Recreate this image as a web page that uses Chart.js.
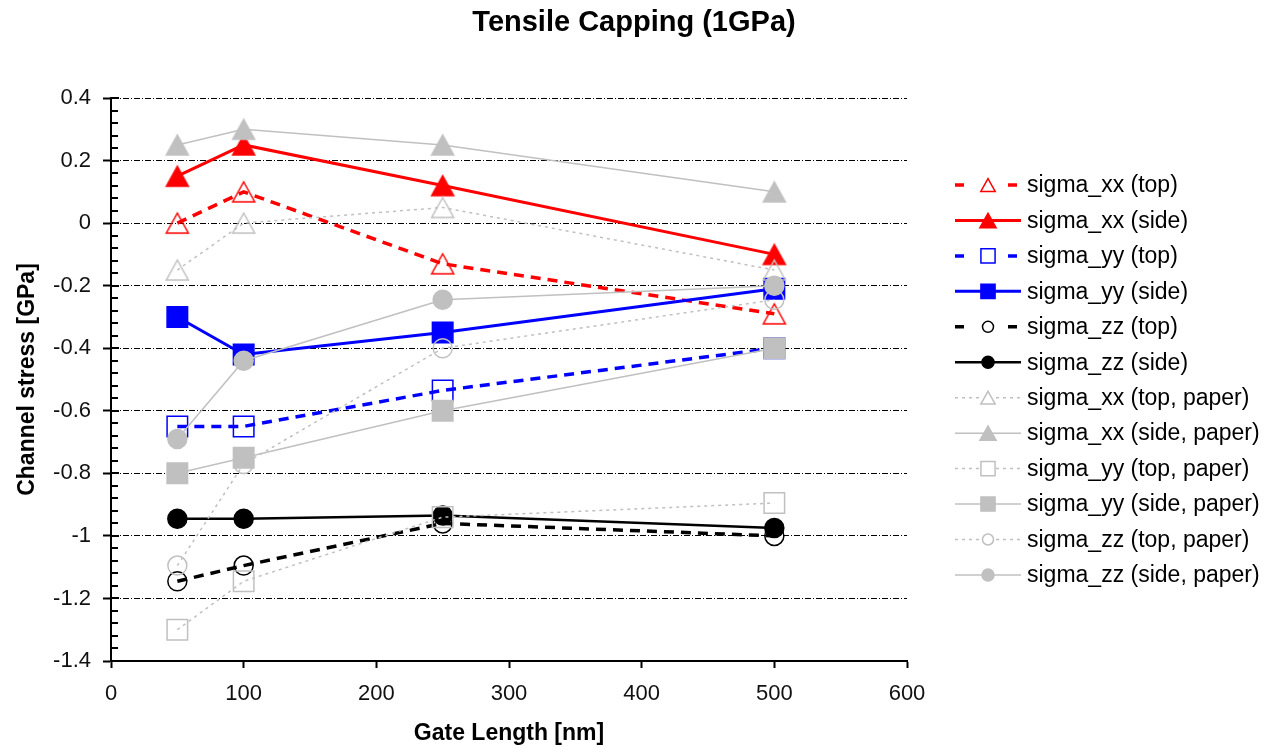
<!DOCTYPE html>
<html>
<head>
<meta charset="utf-8">
<script src="https://cdn.jsdelivr.net/npm/chart.js@4.4.1/dist/chart.umd.min.js"></script>
<style>
  html, body { margin: 0; padding: 0; background: #ffffff; }
  #wrap { width: 1268px; height: 748px; position: relative; }
</style>
</head>
<body>
<div id="wrap"><canvas id="c" width="1268" height="748"></canvas></div>
<script>
// ---- data ----
const gateLength = [50, 100, 250, 500];
const seriesNames = [
  'sigma_xx (top)', 'sigma_xx (side)', 'sigma_yy (top)', 'sigma_yy (side)',
  'sigma_zz (top)', 'sigma_zz (side)',
  'sigma_xx (top, paper)', 'sigma_xx (side, paper)', 'sigma_yy (top, paper)',
  'sigma_yy (side, paper)', 'sigma_zz (top, paper)', 'sigma_zz (side, paper)'
];
const xxTop       = [0.00, 0.10, -0.13, -0.29];
const xxSide      = [0.15, 0.25, 0.12, -0.10];
const yyTop       = [-0.65, -0.65, -0.535, -0.40];
const yySide      = [-0.30, -0.42, -0.35, -0.21];
const zzTop       = [-1.145, -1.095, -0.96, -1.00];
const zzSide      = [-0.945, -0.945, -0.935, -0.975];
const xxTopPaper  = [-0.15, 0.00, 0.05, -0.15];
const xxSidePaper = [0.25, 0.30, 0.25, 0.10];
const yyTopPaper  = [-1.30, -1.145, -0.94, -0.895];
const yySidePaper = [-0.80, -0.75, -0.60, -0.40];
const zzTopPaper  = [-1.095, -0.77, -0.40, -0.245];
const zzSidePaper = [-0.69, -0.44, -0.245, -0.20];
const yTicks = { min: -1.4, max: 0.4, step: 0.2, minorStep: 0.04 };
const xTicks = { min: 0, max: 600, step: 100 };
const chartTitle = 'Tensile Capping (1GPa)';
const xTitle = 'Gate Length [nm]';
const yTitle = 'Channel stress [GPa]';

const allValues = [xxTop, xxSide, yyTop, yySide, zzTop, zzSide,
  xxTopPaper, xxSidePaper, yyTopPaper, yySidePaper, zzTopPaper, zzSidePaper];

// ---- styles ----
const RED = '#ff0000', BLUE = '#0000ff', BLACK = '#000000', GREY = '#c0c0c0';
const styles = [
  { c: RED,   kind: 'dash',  w: 3.5, ps: 'triangle', r: 11,   open: true,  lr: 8 },
  { c: RED,   kind: 'solid', w: 3,   ps: 'triangle', r: 11,   open: false, lr: 9 },
  { c: BLUE,  kind: 'dash',  w: 3.5, ps: 'rect',     r: 14.5, open: true,  lr: 10 },
  { c: BLUE,  kind: 'solid', w: 3,   ps: 'rect',     r: 14.5, open: false, lr: 10 },
  { c: BLACK, kind: 'dash',  w: 3.5, ps: 'circle',   r: 9.5,  open: true,  lr: 5.5 },
  { c: BLACK, kind: 'solid', w: 2.5, ps: 'circle',   r: 9.5,  open: false, lr: 6 },
  { c: GREY,  kind: 'dot',   w: 1.5, ps: 'triangle', r: 11,   open: true,  lr: 8 },
  { c: GREY,  kind: 'solid', w: 1.5, ps: 'triangle', r: 11,   open: false, lr: 9 },
  { c: GREY,  kind: 'dot',   w: 1.5, ps: 'rect',     r: 14.5, open: true,  lr: 10 },
  { c: GREY,  kind: 'solid', w: 1.5, ps: 'rect',     r: 14.5, open: false, lr: 10 },
  { c: GREY,  kind: 'dot',   w: 1.5, ps: 'circle',   r: 9.5,  open: true,  lr: 5.5 },
  { c: GREY,  kind: 'solid', w: 1.5, ps: 'circle',   r: 9.5,  open: false, lr: 6 }
];
const dashPattern = { dash: [10, 7], dot: [3, 4], solid: [] };

// triangle marker image centred on its bounding box (like the reference)
function triangleImage(halfW, color, open) {
  const h = Math.round(halfW * 1.8);
  const cv = document.createElement('canvas');
  cv.width = Math.ceil(halfW * 2 + 4);
  cv.height = h + 4;
  const g = cv.getContext('2d');
  const cx = cv.width / 2, top = 2, bot = 2 + h;
  g.beginPath();
  g.moveTo(cx, top);
  g.lineTo(cx + halfW, bot);
  g.lineTo(cx - halfW, bot);
  g.closePath();
  if (!open) { g.fillStyle = color; g.fill(); }
  g.lineWidth = 1.5; g.strokeStyle = color; g.stroke();
  return cv;
}

const datasets = seriesNames.map((name, i) => {
  const s = styles[i];
  const ps = s.ps === 'triangle' ? triangleImage(s.r, s.c, s.open) : s.ps;
  return {
    label: name,
    data: gateLength.map((x, k) => ({ x: x, y: allValues[i][k] })),
    borderColor: s.c,
    borderWidth: s.w,
    borderDash: dashPattern[s.kind],
    backgroundColor: s.c,
    pointStyle: ps,
    pointRadius: s.r,
    pointHoverRadius: s.r,
    pointBorderWidth: 1.5,
    pointBorderColor: s.c,
    pointBackgroundColor: s.open ? 'rgba(0,0,0,0)' : s.c,
    tension: 0,
    fill: false,
    order: 100 - i,
    _leg: s
  };
});

const FONT = "'Liberation Sans', Arial, Helvetica, sans-serif";

function drawMarker(ctx, style, r, x, y, fill, stroke, bw) {
  ctx.beginPath();
  if (style === 'triangle') {
    const hw = r * 0.9, hh = r * 0.8;
    ctx.moveTo(x, y - hh);
    ctx.lineTo(x + hw, y + hh);
    ctx.lineTo(x - hw, y + hh);
    ctx.closePath();
  } else if (style === 'rect') {
    const h = Math.SQRT1_2 * r;
    ctx.rect(x - h, y - h, 2 * h, 2 * h);
  } else {
    ctx.arc(x, y, r, 0, Math.PI * 2);
  }
  if (fill) { ctx.fillStyle = fill; ctx.fill(); }
  ctx.lineWidth = bw; ctx.strokeStyle = stroke; ctx.setLineDash([]); ctx.stroke();
}

const extrasPlugin = {
  id: 'extras',
  afterDraw(chart) {
    const ctx = chart.ctx;
    const ys = chart.scales.y;
    const left = chart.chartArea.left;
    // y-axis minor / inner tick marks
    ctx.save();
    ctx.strokeStyle = '#000'; ctx.lineWidth = 2; ctx.setLineDash([]);
    ctx.beginPath();
    const n = Math.round((yTicks.max - yTicks.min) / yTicks.minorStep);
    for (let i = 0; i <= n; i++) {
      const v = yTicks.min + i * yTicks.minorStep;
      const major = i % 5 === 0;
      const py = Math.round(ys.getPixelForValue(v));
      ctx.moveTo(left, py);
      ctx.lineTo(left + (major ? 8 : 7), py);
    }
    ctx.stroke();
    ctx.restore();

    // title, centred on the whole picture
    ctx.save();
    ctx.fillStyle = '#000';
    ctx.font = "bold 29px " + FONT;
    ctx.textAlign = 'center';
    ctx.textBaseline = 'middle';
    ctx.fillText(chartTitle, chart.width / 2, 23);
    ctx.restore();

    // legend
    const L = { x0: 955, x1: 1021, mx: 988, tx: 1027, y0: 185, dy: 35.45 };
    ctx.save();
    chart.data.datasets.forEach((ds, i) => {
      const s = ds._leg;
      const y = L.y0 + i * L.dy;
      ctx.strokeStyle = s.c;
      ctx.lineWidth = s.kind === 'dash' ? 3.5 : (s.c === GREY ? 1.5 : s.w);
      if (s.kind === 'dash') {
        ctx.setLineDash([]);
        ctx.beginPath();
        ctx.moveTo(L.x0, y); ctx.lineTo(L.x0 + 9, y);
        ctx.moveTo(L.x1 - 13, y); ctx.lineTo(L.x1 - 4, y);
        ctx.stroke();
      } else if (s.kind === 'dot') {
        ctx.setLineDash([3, 4]);
        ctx.beginPath();
        ctx.moveTo(L.x0, y); ctx.lineTo(L.mx - 8, y);
        ctx.moveTo(L.mx + 8, y); ctx.lineTo(L.x1, y);
        ctx.stroke();
      } else {
        ctx.setLineDash([]);
        ctx.beginPath();
        ctx.moveTo(L.x0, y); ctx.lineTo(L.x1, y);
        ctx.stroke();
      }
      drawMarker(ctx, s.ps, s.lr, L.mx, y, s.open ? '#ffffff' : s.c, s.c, 1.5);
      ctx.fillStyle = '#000';
      ctx.font = "23px " + FONT;
      ctx.textAlign = 'left';
      ctx.textBaseline = 'middle';
      ctx.fillText(ds.label, L.tx, y + 1);
    });
    ctx.restore();
  }
};

function fmtY(v) {
  const r = Math.round(v * 10) / 10;
  return (r === 0) ? '0' : String(r);
}

new Chart(document.getElementById('c'), {
  type: 'line',
  data: { datasets: datasets },
  plugins: [extrasPlugin],
  options: {
    responsive: false,
    animation: false,
    devicePixelRatio: 1,
    layout: { padding: { left: 0, right: 361, top: 98, bottom: 0 } },
    plugins: {
      legend: { display: false },
      tooltip: { enabled: false },
      title: { display: false }
    },
    scales: {
      x: {
        type: 'linear',
        min: xTicks.min, max: xTicks.max,
        ticks: { stepSize: xTicks.step, color: '#111', padding: 13,
                 font: { family: FONT, size: 22 } },
        grid: { display: true, drawOnChartArea: false, drawTicks: true,
                tickLength: 7, tickColor: '#000', tickWidth: 2 },
        border: { display: true, color: '#000', width: 2 },
        title: { display: true, text: xTitle, color: '#000',
                 font: { family: FONT, size: 23, weight: 'bold' },
                 padding: { top: 0, bottom: 1 } },
        afterFit(scale) { scale.height = 87; }
      },
      y: {
        type: 'linear',
        min: yTicks.min, max: yTicks.max,
        ticks: { stepSize: yTicks.step, color: '#111', padding: 12,
                 font: { family: FONT, size: 22 }, callback: fmtY },
        grid: { display: true, color: '#000', lineWidth: 1, drawTicks: true,
                tickLength: 8, tickColor: '#000', tickWidth: 2 },
        border: { display: true, color: '#000', width: 2, dash: [6, 2, 1, 2] },
        title: { display: true, text: yTitle, color: '#000',
                 font: { family: FONT, size: 23, weight: 'bold' },
                 padding: { top: 14, bottom: 0 } },
        afterFit(scale) { scale.width = 111; }
      }
    }
  }
});
</script>
</body>
</html>
